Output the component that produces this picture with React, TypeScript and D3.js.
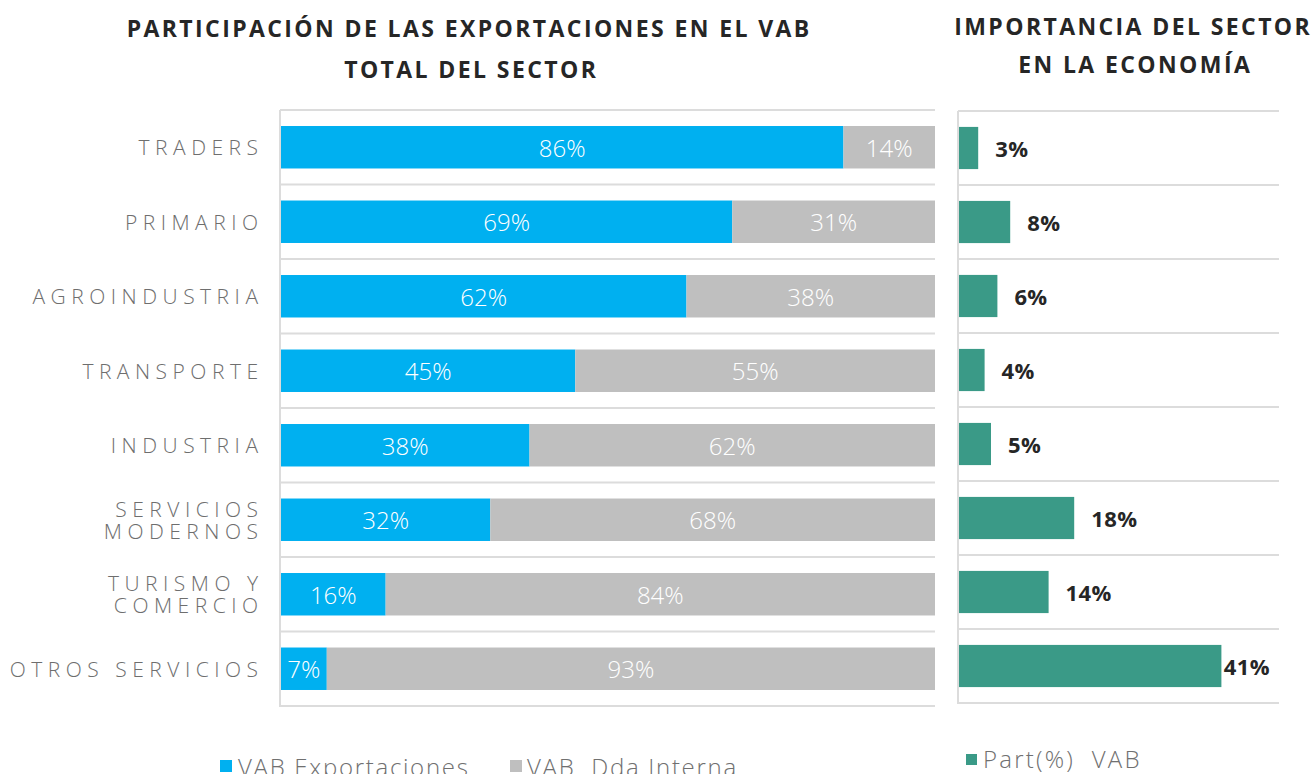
import React from "react";
import * as d3 from "d3";

const categories = [
  "TRADERS",
  "PRIMARIO",
  "AGROINDUSTRIA",
  "TRANSPORTE",
  "INDUSTRIA",
  "SERVICIOS MODERNOS",
  "TURISMO Y COMERCIO",
  "OTROS SERVICIOS",
];
const categoryLines = [
  ["TRADERS"],
  ["PRIMARIO"],
  ["AGROINDUSTRIA"],
  ["TRANSPORTE"],
  ["INDUSTRIA"],
  ["SERVICIOS", "MODERNOS"],
  ["TURISMO Y", "COMERCIO"],
  ["OTROS SERVICIOS"],
];
const exportShare = [0.86, 0.69, 0.62, 0.45, 0.38, 0.32, 0.16, 0.07];
const domesticShare = [0.14, 0.31, 0.38, 0.55, 0.62, 0.68, 0.84, 0.93];
const vabShare = [0.03, 0.08, 0.06, 0.04, 0.05, 0.18, 0.14, 0.41];

const leftTitle = ["PARTICIPACIÓN DE LAS EXPORTACIONES EN EL VAB", "TOTAL DEL SECTOR"];
const rightTitle = ["IMPORTANCIA DEL SECTOR", "EN LA ECONOMÍA"];
const legendLeft = ["VAB Exportaciones", "VAB  Dda Interna"];
const legendRight = ["Part(%)  VAB"];

const BLUE = "#00b0f0";
const GRAY = "#bfbfbf";
const TEAL = "#3a9a87";
const GRID = "#dcdcdc";
const FONT = "'Open Sans', 'Noto Sans', sans-serif";

const pct = d3.format(".0%");

export default function App() {
  const W = 1314;
  const H = 774;

  const yL = d3.scaleBand<string>().domain(categories).range([110, 706]).paddingInner(0.43).paddingOuter(0.215);
  const xL = d3.scaleLinear().domain([0, 1]).range([281, 935]);
  const yR = d3.scaleBand<string>().domain(categories).range([111, 703]).paddingInner(0.43).paddingOuter(0.215);
  const xR = d3.scaleLinear().domain([0, 0.5]).range([959, 1279]);

  const stepL = yL.step();
  const stepR = yR.step();
  const gridL = d3.range(categories.length + 1).map((i) => 110 + i * stepL);
  const gridR = d3.range(categories.length + 1).map((i) => 111 + i * stepR);

  const labelRightLimit = 1270;
  const catLS = 5.5;
  const titleLS = 2.4;

  return (
    <svg
      width={W}
      height={H}
      style={{ position: "absolute", left: 0, top: 0, background: "#fff" }}
      fontFamily={FONT}
    >
      {/* Titles */}
      <g fill="#262626" fontWeight={700} fontSize={23} letterSpacing={titleLS} textAnchor="middle">
        <text x={468 + titleLS / 2} y={37}>{leftTitle[0]}</text>
        <text x={470 + titleLS / 2} y={78}>{leftTitle[1]}</text>
        <text x={1132 + titleLS / 2} y={35}>{rightTitle[0]}</text>
        <text x={1134 + titleLS / 2} y={73}>{rightTitle[1]}</text>
      </g>

      {/* Left gridlines */}
      <g stroke={GRID} strokeWidth={2}>
        {gridL.map((y, i) => (
          <line key={i} x1={280} x2={935} y1={y} y2={y} />
        ))}
        <line x1={280} x2={280} y1={110} y2={707} />
      </g>
      {/* Right gridlines */}
      <g stroke={GRID} strokeWidth={2}>
        {gridR.map((y, i) => (
          <line key={i} x1={958} x2={1279} y1={y} y2={y} />
        ))}
        <line x1={958} x2={958} y1={111} y2={704} />
      </g>

      {/* Category labels */}
      <g fill="#6e6e6e" fontWeight={300} fontSize={21} letterSpacing={catLS} textAnchor="end">
        {categories.map((c, i) => {
          const lines = categoryLines[i];
          const cy = (yL(c) as number) + yL.bandwidth() / 2;
          return lines.map((ln, j) => (
            <text
              key={c + j}
              x={258 + catLS}
              y={cy + (j - (lines.length - 1) / 2) * 22}
              dominantBaseline="central"
            >
              {ln}
            </text>
          ));
        })}
      </g>

      {/* Left stacked bars */}
      {categories.map((c, i) => {
        const y = yL(c) as number;
        const h = yL.bandwidth();
        const e = exportShare[i];
        const d = domesticShare[i];
        return (
          <g key={c}>
            <rect x={xL(0)} y={y} width={xL(e) - xL(0)} height={h} fill={BLUE} />
            <rect x={xL(e)} y={y} width={xL(e + d) - xL(e)} height={h} fill={GRAY} />
            <text
              x={(xL(0) + xL(e)) / 2}
              y={y + h / 2}
              dominantBaseline="central"
              textAnchor="middle"
              fill="#fff"
              fontSize={24}
              fontWeight={300}
            >
              {pct(e)}
            </text>
            <text
              x={(xL(e) + xL(e + d)) / 2}
              y={y + h / 2}
              dominantBaseline="central"
              textAnchor="middle"
              fill="#fff"
              fontSize={24}
              fontWeight={300}
            >
              {pct(d)}
            </text>
          </g>
        );
      })}

      {/* Right bars */}
      {categories.map((c, i) => {
        const y = yR(c) as number;
        const h = yR.bandwidth();
        const v = vabShare[i];
        const end = xR(v);
        const label = pct(v);
        const estW = label.length * 16;
        const fits = end + 17 + estW <= labelRightLimit;
        return (
          <g key={c}>
            <rect x={xR(0)} y={y} width={end - xR(0)} height={h} fill={TEAL} />
            <text
              x={fits ? end + 17 : labelRightLimit}
              y={y + h / 2}
              dominantBaseline="central"
              textAnchor={fits ? "start" : "end"}
              fill="#262626"
              fontSize={22}
              fontWeight={700}
              letterSpacing={0.4}
            >
              {label}
            </text>
          </g>
        );
      })}

      {/* Legends */}
      <g fill="#707070" fontSize={24} fontWeight={300} letterSpacing={1.7}>
        <rect x={220} y={760} width={12} height={12} fill={BLUE} />
        <text x={238} y={776}>{legendLeft[0]}</text>
        <rect x={510} y={760} width={12} height={12} fill={GRAY} />
        <text x={527} y={776} style={{ whiteSpace: "pre" }}>{legendLeft[1]}</text>
        <rect x={966} y={754} width={11} height={11} fill={TEAL} />
        <text x={983} y={768} letterSpacing={2.2} style={{ whiteSpace: "pre" }}>{legendRight[0]}</text>
      </g>
    </svg>
  );
}
